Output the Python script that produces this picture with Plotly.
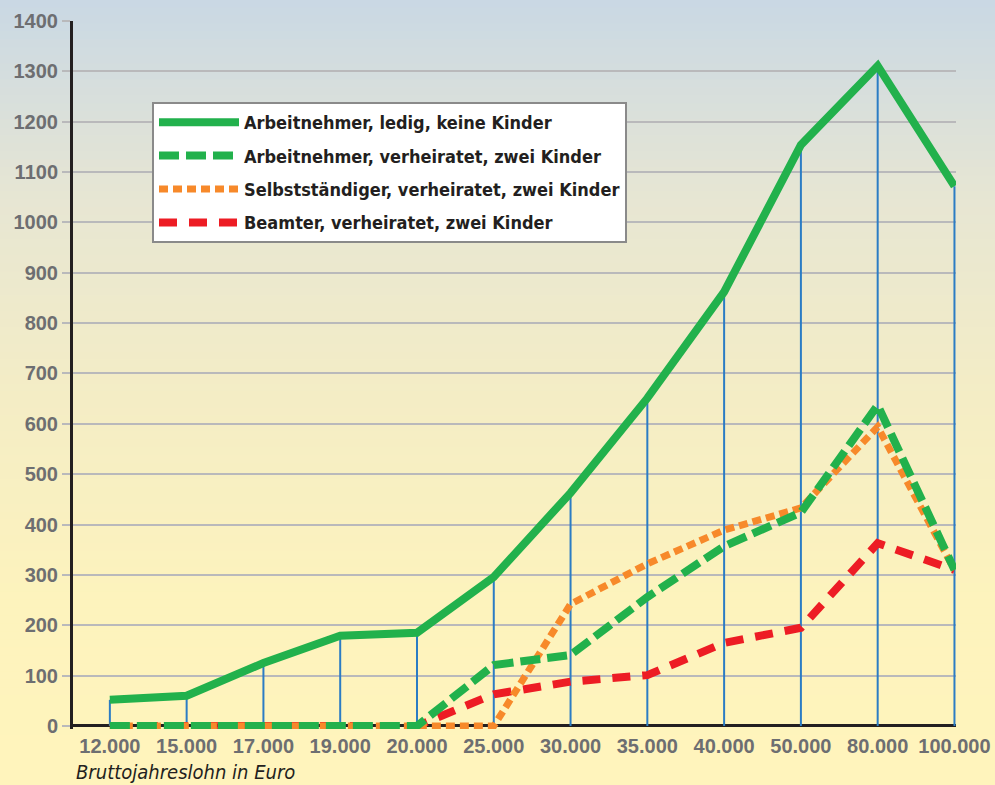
import plotly.graph_objects as go

categories = ["12.000", "15.000", "17.000", "19.000", "20.000", "25.000",
              "30.000", "35.000", "40.000", "50.000", "80.000", "100.000"]
ledig = [52, 60, 125, 179, 185, 296, 463, 651, 862, 1154, 1311, 1072]
verheiratet = [0, 0, 0, 0, 0, 121, 141, 256, 357, 424, 637, 310]
selbst = [0, 0, 0, 0, 0, 0, 242, 322, 389, 433, 594, 310]
beamter = [0, 0, 0, 0, 0, 63, 88, 101, 165, 195, 363, 310]
y_ticks = list(range(0, 1401, 100))

names = ["Arbeitnehmer, ledig, keine Kinder",
         "Arbeitnehmer, verheiratet, zwei Kinder",
         "Selbstständiger, verheiratet, zwei Kinder",
         "Beamter, verheiratet, zwei Kinder"]

GREEN = "#22b14c"
ORANGE = "#f7892a"
RED = "#ed1c24"
BLUE = "#2b7cc4"

W, H = 995, 785
ML, MR, MT, MB = 73, 39, 21, 56

fig = go.Figure()

# drop lines from each category up to the top series
dx, dy = [], []
for c, v in zip(categories, ledig):
    dx += [c, c, None]
    dy += [0, v, None]
fig.add_trace(go.Scatter(x=dx, y=dy, mode="lines", line=dict(color=BLUE, width=2),
                         showlegend=False, hoverinfo="skip"))

fig.add_trace(go.Scatter(x=categories, y=beamter, mode="lines", name=names[3],
                         line=dict(color=RED, width=8, dash="18px,12px"),
                         legendrank=4, legendgroup="d"))
fig.add_trace(go.Scatter(x=categories, y=selbst, mode="lines", name=names[2],
                         line=dict(color=ORANGE, width=7, dash="9px,5px"),
                         legendrank=3, legendgroup="c"))
fig.add_trace(go.Scatter(x=categories, y=verheiratet, mode="lines", name=names[1],
                         line=dict(color=GREEN, width=8, dash="20px,7px"),
                         legendrank=2, legendgroup="b"))
fig.add_trace(go.Scatter(x=categories, y=ledig, mode="lines", name=names[0],
                         line=dict(color=GREEN, width=8),
                         legendrank=1, legendgroup="a"))

# background gradient (styling only)
stops = [(0, (201, 216, 228)), (200, (231, 230, 211)), (400, (244, 237, 197)),
         (600, (253, 243, 189)), (785, (255, 244, 188))]
def col_at(py):
    for (p0, c0), (p1, c1) in zip(stops[:-1], stops[1:]):
        if p0 <= py <= p1:
            t = (py - p0) / (p1 - p0)
            return "rgb(%d,%d,%d)" % tuple(round(a + (b - a) * t) for a, b in zip(c0, c1))
    return "rgb(%d,%d,%d)" % stops[-1][1]

ph = H - MT - MB
pw = W - ML - MR
shapes = []
band = 8
for py in range(0, H, band):
    y0 = (H - MB - (py + band)) / ph
    y1 = (H - MB - py) / ph
    shapes.append(dict(type="rect", xref="paper", yref="paper",
                       x0=-ML / pw - 0.01, x1=1 + MR / pw + 0.01, y0=y0, y1=y1 + 0.001,
                       fillcolor=col_at(py + band / 2), line=dict(width=0), layer="below"))

fig.update_layout(
    width=W, height=H,
    margin=dict(l=ML, r=MR, t=MT, b=MB),
    paper_bgcolor="rgb(250,240,200)",
    plot_bgcolor="rgba(0,0,0,0)",
    shapes=shapes,
    showlegend=True,
    legend=dict(
        x=(152 - ML) / pw, y=(H - MB - 102) / ph, xanchor="left", yanchor="top",
        bgcolor="white", bordercolor="#8a8a8a", borderwidth=2,
        font=dict(family="DejaVu Sans Condensed, sans-serif",
                  size=18, color="#231f20", weight="bold"),
        tracegroupgap=7, itemwidth=80,
    ),
    xaxis=dict(
        type="category", categoryorder="array", categoryarray=categories,
        range=[-0.48, 11.02], showgrid=False, showline=False, zeroline=False,
        automargin=False,
        ticks="", tickfont=dict(family="Liberation Sans, Arial, sans-serif", size=20,
                                color="#6d6e71", weight="bold"),
        ticklabelstandoff=3,
    ),
    yaxis=dict(
        range=[-6, 1400], tickvals=y_ticks, ticktext=[str(v) for v in y_ticks],
        automargin=False,
        showgrid=True, gridcolor="#b9b9bb", gridwidth=2,
        showline=True, linecolor="#231f20", linewidth=3,
        zeroline=True, zerolinecolor="#231f20", zerolinewidth=3,
        ticks="outside", ticklen=8, tickcolor="#b9b9bb", tickwidth=2,
        tickfont=dict(family="Liberation Sans, Arial, sans-serif", size=20,
                      color="#6d6e71", weight="bold"),
    ),
    annotations=[dict(text="Bruttojahreslohn in Euro", xref="paper", yref="paper",
                      x=(74 - ML) / pw, y=-(786 - (H - MB)) / ph, xanchor="left",
                      yanchor="bottom", showarrow=False,
                      font=dict(family="DejaVu Sans Condensed, sans-serif",
                                size=20, color="#231f20", style="italic"))],
)

fig.write_html("out.html", config={"displayModeBar": False},
               post_script="document.body.style.margin='0';document.body.style.overflow='hidden';")
